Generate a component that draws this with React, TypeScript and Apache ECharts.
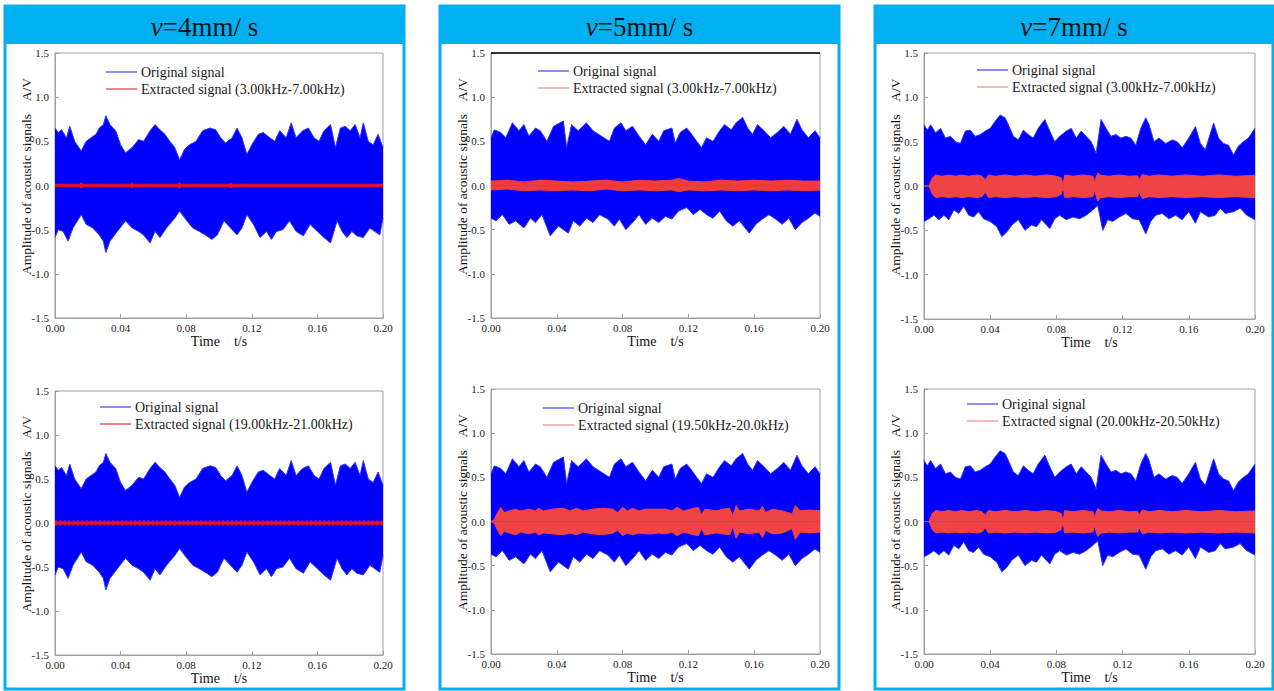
import React, { useEffect, useRef } from "react";
import * as echarts from "echarts";

// ---------- DATA (time s, amplitude V) ----------
const xTicks = [0, 0.04, 0.08, 0.12, 0.16, 0.2];
const yTicks = [-1.5, -1.0, -0.5, 0.0, 0.5, 1.0, 1.5];
const speeds = ["4", "5", "7"];
const extractedLabels = [
  "Extracted signal (3.00kHz-7.00kHz)",
  "Extracted signal (19.00kHz-21.00kHz)",
  "Extracted signal (3.00kHz-7.00kHz)",
  "Extracted signal (19.50kHz-20.0kHz)",
  "Extracted signal (3.00kHz-7.00kHz)",
  "Extracted signal (20.00kHz-20.50kHz)",
];

// v = 4 mm/s original signal envelope
const orig4Upper = [
  [0, 0.65], [0.002, 0.6], [0.004, 0.63], [0.007, 0.54], [0.009, 0.67], [0.012, 0.5], [0.016, 0.39], [0.019, 0.5],
  [0.022, 0.54], [0.025, 0.58], [0.027, 0.65], [0.0295, 0.69], [0.031, 0.79], [0.0335, 0.69], [0.037, 0.62], [0.04, 0.46],
  [0.043, 0.37], [0.047, 0.43], [0.051, 0.52], [0.054, 0.5], [0.058, 0.62], [0.061, 0.69], [0.064, 0.63], [0.067, 0.58],
  [0.07, 0.5], [0.073, 0.43], [0.076, 0.29], [0.079, 0.41], [0.082, 0.46], [0.086, 0.5], [0.09, 0.62], [0.0945, 0.65],
  [0.098, 0.63], [0.101, 0.54], [0.104, 0.48], [0.108, 0.54], [0.111, 0.65], [0.114, 0.54], [0.117, 0.35], [0.12, 0.46],
  [0.124, 0.58], [0.127, 0.6], [0.131, 0.54], [0.134, 0.5], [0.137, 0.62], [0.141, 0.54], [0.144, 0.71], [0.147, 0.54],
  [0.151, 0.62], [0.1545, 0.65], [0.158, 0.54], [0.161, 0.5], [0.164, 0.62], [0.168, 0.69], [0.171, 0.43], [0.174, 0.65],
  [0.177, 0.67], [0.18, 0.62], [0.183, 0.69], [0.186, 0.54], [0.188, 0.71], [0.191, 0.5], [0.194, 0.46], [0.197, 0.58],
  [0.2, 0.43],
];
const orig4Lower = [
  [0, -0.59], [0.002, -0.5], [0.005, -0.52], [0.008, -0.63], [0.011, -0.48], [0.016, -0.33], [0.019, -0.44], [0.023, -0.48],
  [0.027, -0.56], [0.0295, -0.63], [0.031, -0.76], [0.0335, -0.63], [0.038, -0.52], [0.043, -0.4], [0.047, -0.48], [0.051, -0.52],
  [0.054, -0.56], [0.058, -0.65], [0.061, -0.52], [0.064, -0.59], [0.068, -0.48], [0.073, -0.37], [0.076, -0.29], [0.08, -0.39],
  [0.084, -0.48], [0.088, -0.52], [0.0925, -0.57], [0.0956, -0.61], [0.099, -0.56], [0.103, -0.4], [0.107, -0.48], [0.111, -0.56],
  [0.114, -0.48], [0.117, -0.33], [0.121, -0.44], [0.125, -0.59], [0.129, -0.52], [0.132, -0.61], [0.135, -0.52], [0.139, -0.5],
  [0.143, -0.4], [0.147, -0.52], [0.1515, -0.57], [0.1555, -0.44], [0.16, -0.52], [0.164, -0.59], [0.168, -0.65], [0.172, -0.4],
  [0.175, -0.52], [0.178, -0.59], [0.181, -0.52], [0.184, -0.57], [0.188, -0.59], [0.192, -0.48], [0.195, -0.52], [0.198, -0.56],
  [0.2, -0.37],
];

// v = 5 mm/s original signal envelope
const orig5Upper = [
  [0, 0.54], [0.002, 0.63], [0.006, 0.6], [0.009, 0.54], [0.013, 0.71], [0.017, 0.62], [0.02, 0.69], [0.023, 0.56],
  [0.027, 0.65], [0.03, 0.62], [0.034, 0.5], [0.038, 0.67], [0.044, 0.73], [0.046, 0.43], [0.049, 0.69], [0.053, 0.62],
  [0.058, 0.71], [0.062, 0.62], [0.067, 0.56], [0.072, 0.5], [0.075, 0.65], [0.079, 0.71], [0.082, 0.62], [0.086, 0.67],
  [0.09, 0.56], [0.094, 0.46], [0.098, 0.58], [0.102, 0.5], [0.105, 0.62], [0.11, 0.65], [0.112, 0.48], [0.115, 0.6],
  [0.119, 0.65], [0.122, 0.58], [0.125, 0.5], [0.128, 0.43], [0.131, 0.54], [0.135, 0.5], [0.139, 0.62], [0.142, 0.69],
  [0.146, 0.63], [0.149, 0.71], [0.153, 0.77], [0.156, 0.65], [0.159, 0.58], [0.162, 0.69], [0.166, 0.62], [0.17, 0.54],
  [0.174, 0.6], [0.178, 0.67], [0.182, 0.58], [0.186, 0.75], [0.189, 0.63], [0.193, 0.54], [0.197, 0.62], [0.2, 0.54],
];
const orig5Lower = [
  [0, -0.37], [0.003, -0.4], [0.007, -0.33], [0.011, -0.44], [0.015, -0.4], [0.02, -0.48], [0.024, -0.37], [0.027, -0.42],
  [0.031, -0.33], [0.036, -0.57], [0.041, -0.46], [0.047, -0.54], [0.05, -0.4], [0.054, -0.46], [0.058, -0.37], [0.062, -0.42],
  [0.066, -0.33], [0.071, -0.38], [0.075, -0.46], [0.078, -0.38], [0.082, -0.5], [0.087, -0.4], [0.09, -0.33], [0.094, -0.44],
  [0.098, -0.37], [0.102, -0.42], [0.106, -0.35], [0.11, -0.38], [0.114, -0.29], [0.119, -0.25], [0.123, -0.33], [0.127, -0.27],
  [0.131, -0.33], [0.135, -0.37], [0.139, -0.29], [0.143, -0.4], [0.147, -0.46], [0.151, -0.4], [0.157, -0.54], [0.161, -0.44],
  [0.165, -0.38], [0.169, -0.33], [0.173, -0.38], [0.177, -0.44], [0.181, -0.37], [0.185, -0.5], [0.189, -0.42], [0.193, -0.37],
  [0.197, -0.31], [0.2, -0.35],
];

// v = 7 mm/s original signal envelope
const orig7Upper = [
  [0, 0.69], [0.002, 0.63], [0.004, 0.69], [0.007, 0.6], [0.01, 0.65], [0.013, 0.54], [0.016, 0.56], [0.019, 0.5],
  [0.022, 0.48], [0.025, 0.62], [0.028, 0.63], [0.031, 0.56], [0.034, 0.58], [0.037, 0.62], [0.04, 0.65], [0.043, 0.73],
  [0.046, 0.8], [0.049, 0.77], [0.051, 0.69], [0.054, 0.56], [0.057, 0.52], [0.06, 0.63], [0.063, 0.58], [0.066, 0.54],
  [0.069, 0.65], [0.073, 0.75], [0.076, 0.62], [0.079, 0.5], [0.082, 0.56], [0.086, 0.62], [0.089, 0.65], [0.092, 0.54],
  [0.095, 0.62], [0.098, 0.56], [0.101, 0.5], [0.104, 0.37], [0.107, 0.75], [0.11, 0.65], [0.113, 0.56], [0.116, 0.58],
  [0.119, 0.54], [0.122, 0.56], [0.125, 0.54], [0.128, 0.46], [0.131, 0.65], [0.134, 0.77], [0.136, 0.69], [0.139, 0.5],
  [0.142, 0.54], [0.146, 0.48], [0.15, 0.52], [0.153, 0.5], [0.156, 0.43], [0.16, 0.54], [0.164, 0.67], [0.167, 0.48],
  [0.17, 0.41], [0.175, 0.71], [0.178, 0.54], [0.181, 0.48], [0.184, 0.46], [0.187, 0.35], [0.19, 0.45], [0.193, 0.5],
  [0.196, 0.54], [0.2, 0.65],
];
const orig7Lower = [
  [0, -0.4], [0.003, -0.37], [0.006, -0.33], [0.009, -0.38], [0.012, -0.33], [0.015, -0.38], [0.018, -0.27], [0.021, -0.31],
  [0.024, -0.23], [0.027, -0.33], [0.03, -0.35], [0.033, -0.29], [0.036, -0.37], [0.04, -0.4], [0.044, -0.46], [0.047, -0.57],
  [0.05, -0.52], [0.053, -0.44], [0.057, -0.38], [0.061, -0.5], [0.065, -0.44], [0.068, -0.46], [0.071, -0.38], [0.076, -0.48],
  [0.079, -0.37], [0.082, -0.33], [0.086, -0.38], [0.09, -0.35], [0.094, -0.37], [0.098, -0.33], [0.102, -0.27], [0.105, -0.22],
  [0.108, -0.5], [0.111, -0.38], [0.114, -0.4], [0.118, -0.35], [0.122, -0.31], [0.126, -0.37], [0.13, -0.38], [0.134, -0.54],
  [0.137, -0.4], [0.14, -0.33], [0.144, -0.31], [0.148, -0.37], [0.152, -0.33], [0.156, -0.38], [0.16, -0.29], [0.164, -0.42],
  [0.167, -0.29], [0.172, -0.35], [0.176, -0.33], [0.179, -0.25], [0.182, -0.31], [0.187, -0.29], [0.191, -0.25], [0.195, -0.33],
  [0.2, -0.38],
];

// extracted signals
const ext4aUpper = [
  [0, 0.014], [0.015, 0.014], [0.016, 0.03], [0.017, 0.014], [0.046, 0.014], [0.047, 0.028], [0.048, 0.014], [0.075, 0.014],
  [0.076, 0.03], [0.077, 0.014], [0.106, 0.014], [0.107, 0.025], [0.108, 0.014], [0.2, 0.014],
];
const ext4aLower = [
  [0, -0.014], [0.015, -0.014], [0.016, -0.03], [0.017, -0.014], [0.046, -0.014], [0.047, -0.028], [0.048, -0.014], [0.075, -0.014],
  [0.076, -0.03], [0.077, -0.014], [0.106, -0.014], [0.107, -0.025], [0.108, -0.014], [0.2, -0.014],
];
const ext4bUpper = [[0, 0.012], [0.2, 0.012]];
const ext4bLower = [[0, -0.012], [0.2, -0.012]];

const ext5aUpper = [
  [0, 0.05], [0.01, 0.06], [0.02, 0.04], [0.03, 0.06], [0.04, 0.05], [0.05, 0.04], [0.06, 0.05], [0.07, 0.06],
  [0.08, 0.04], [0.09, 0.06], [0.1, 0.05], [0.11, 0.06], [0.114, 0.08], [0.12, 0.05], [0.13, 0.04], [0.14, 0.06],
  [0.15, 0.05], [0.16, 0.06], [0.17, 0.05], [0.18, 0.06], [0.19, 0.05], [0.2, 0.05],
];
const ext5aLower = [
  [0, -0.05], [0.01, -0.04], [0.02, -0.06], [0.03, -0.05], [0.04, -0.06], [0.05, -0.05], [0.06, -0.06], [0.07, -0.04],
  [0.08, -0.06], [0.09, -0.05], [0.1, -0.06], [0.11, -0.05], [0.114, -0.07], [0.12, -0.05], [0.13, -0.06], [0.14, -0.05],
  [0.15, -0.06], [0.16, -0.05], [0.17, -0.06], [0.18, -0.05], [0.19, -0.06], [0.2, -0.05],
];
const ext5bUpper = [
  [0, 0], [0.002, 0.02], [0.004, 0.1], [0.006, 0.16], [0.008, 0.1], [0.011, 0.12], [0.015, 0.14], [0.018, 0.12],
  [0.023, 0.14], [0.027, 0.12], [0.029, 0.15], [0.032, 0.12], [0.037, 0.14], [0.044, 0.15], [0.048, 0.12], [0.052, 0.15],
  [0.056, 0.12], [0.062, 0.14], [0.068, 0.15], [0.074, 0.14], [0.077, 0.1], [0.08, 0.16], [0.083, 0.12], [0.086, 0.15],
  [0.09, 0.12], [0.094, 0.14], [0.098, 0.14], [0.102, 0.14], [0.106, 0.14], [0.11, 0.12], [0.113, 0.16], [0.117, 0.12],
  [0.121, 0.14], [0.126, 0.16], [0.128, 0.08], [0.13, 0.14], [0.137, 0.12], [0.141, 0.14], [0.145, 0.15], [0.147, 0.06],
  [0.149, 0.18], [0.151, 0.12], [0.157, 0.14], [0.163, 0.12], [0.165, 0.17], [0.167, 0.1], [0.171, 0.14], [0.177, 0.12],
  [0.181, 0.1], [0.183, 0.08], [0.185, 0.18], [0.188, 0.12], [0.194, 0.13], [0.2, 0.12],
];
const ext5bLower = [
  [0, 0], [0.002, -0.02], [0.004, -0.1], [0.006, -0.16], [0.008, -0.11], [0.011, -0.13], [0.015, -0.15], [0.018, -0.12],
  [0.023, -0.14], [0.027, -0.12], [0.029, -0.15], [0.032, -0.13], [0.037, -0.14], [0.044, -0.15], [0.048, -0.13], [0.052, -0.15],
  [0.056, -0.12], [0.062, -0.14], [0.068, -0.15], [0.074, -0.13], [0.077, -0.1], [0.08, -0.16], [0.083, -0.13], [0.086, -0.15],
  [0.09, -0.13], [0.094, -0.14], [0.098, -0.14], [0.102, -0.13], [0.106, -0.14], [0.11, -0.12], [0.113, -0.16], [0.117, -0.12],
  [0.121, -0.14], [0.126, -0.16], [0.128, -0.08], [0.13, -0.15], [0.137, -0.13], [0.141, -0.14], [0.145, -0.15], [0.147, -0.06],
  [0.149, -0.19], [0.151, -0.12], [0.157, -0.14], [0.163, -0.12], [0.165, -0.18], [0.167, -0.1], [0.171, -0.14], [0.177, -0.13],
  [0.181, -0.1], [0.183, -0.08], [0.185, -0.2], [0.188, -0.12], [0.194, -0.13], [0.2, -0.12],
];

const ext7Upper = [
  [0, 0], [0.003, 0], [0.005, 0.09], [0.007, 0.125], [0.011, 0.11], [0.015, 0.125], [0.019, 0.11], [0.023, 0.125],
  [0.027, 0.11], [0.032, 0.125], [0.035, 0.11], [0.037, 0.07], [0.039, 0.125], [0.043, 0.11], [0.049, 0.125], [0.055, 0.11],
  [0.061, 0.125], [0.067, 0.11], [0.074, 0.125], [0.08, 0.11], [0.083, 0.09], [0.084, 0.01], [0.085, 0.125], [0.09, 0.11],
  [0.096, 0.125], [0.102, 0.11], [0.103, 0.05], [0.105, 0.145], [0.107, 0.12], [0.112, 0.11], [0.118, 0.125], [0.124, 0.11],
  [0.129, 0.115], [0.13, 0.07], [0.132, 0.13], [0.136, 0.11], [0.142, 0.125], [0.15, 0.11], [0.158, 0.125], [0.168, 0.11],
  [0.178, 0.125], [0.188, 0.11], [0.2, 0.12],
];
const ext7Lower = [
  [0, 0], [0.003, 0], [0.005, -0.09], [0.007, -0.13], [0.011, -0.12], [0.015, -0.13], [0.019, -0.12], [0.023, -0.13],
  [0.027, -0.12], [0.032, -0.13], [0.035, -0.12], [0.037, -0.07], [0.039, -0.13], [0.043, -0.12], [0.049, -0.13], [0.055, -0.12],
  [0.061, -0.13], [0.067, -0.12], [0.074, -0.13], [0.08, -0.12], [0.083, -0.09], [0.084, -0.01], [0.085, -0.13], [0.09, -0.12],
  [0.096, -0.13], [0.102, -0.12], [0.103, -0.05], [0.105, -0.17], [0.107, -0.13], [0.112, -0.12], [0.118, -0.13], [0.124, -0.12],
  [0.129, -0.12], [0.13, -0.07], [0.132, -0.14], [0.136, -0.12], [0.142, -0.13], [0.15, -0.12], [0.158, -0.13], [0.168, -0.12],
  [0.178, -0.13], [0.188, -0.12], [0.2, -0.13],
];

// ---------- LAYOUT / STYLE ----------
const SERIF = "Liberation Serif";
const BLUE = "#0000ff";
const FRAME = "#00b0f0";

const frames = [
  { x: 5, w: 399 },
  { x: 440, w: 399 },
  { x: 875, w: 398 },
];
const grids = [
  { left: 55, top: 53, width: 328, height: 265, legX: 51, legY: 19 },
  { left: 55, top: 391, width: 328, height: 264, legX: 45, legY: 16 },
  { left: 491, top: 53, width: 329, height: 265, legX: 47, legY: 18 },
  { left: 491, top: 389, width: 329, height: 265, legX: 52, legY: 19 },
  { left: 924, top: 53, width: 331, height: 266, legX: 53, legY: 17 },
  { left: 924, top: 389, width: 331, height: 265, legX: 43, legY: 15 },
];
const panelData = [
  { ou: orig4Upper, ol: orig4Lower, eu: ext4aUpper, el: ext4aLower, red: "#e8141c" },
  { ou: orig4Upper, ol: orig4Lower, eu: ext4bUpper, el: ext4bLower, red: "#e8141c", beads: true },
  { ou: orig5Upper, ol: orig5Lower, eu: ext5aUpper, el: ext5aLower, red: "#f03c3c" },
  { ou: orig5Upper, ol: orig5Lower, eu: ext5bUpper, el: ext5bLower, red: "#f04444" },
  { ou: orig7Upper, ol: orig7Lower, eu: ext7Upper, el: ext7Lower, red: "#f04444" },
  { ou: orig7Upper, ol: orig7Lower, eu: ext7Upper, el: ext7Lower, red: "#f04444" },
];

function buildOption() {
  const grid: any[] = [];
  const xAxis: any[] = [];
  const yAxis: any[] = [];
  const series: any[] = [];
  const graphic: any[] = [];

  frames.forEach((f, i) => {
    graphic.push({
      type: "rect",
      shape: { x: f.x, y: 6, width: f.w, height: 38 },
      style: { fill: FRAME },
      z: 1,
    });
    graphic.push({
      type: "rect",
      shape: { x: f.x, y: 6, width: f.w, height: 683 },
      style: { fill: "none", stroke: FRAME, lineWidth: 3 },
      z: 1,
    });
    graphic.push({
      type: "text",
      x: f.x + f.w / 2,
      y: 27,
      z: 2,
      style: {
        text: "{i|v}{n|=" + speeds[i] + "mm/ s}",
        align: "center",
        verticalAlign: "middle",
        rich: {
          i: { fontFamily: SERIF, fontSize: 27, fontStyle: "italic", fill: "#111" },
          n: { fontFamily: SERIF, fontSize: 27, fill: "#111" },
        },
      },
    });
  });

  grids.forEach((g, i) => {
    grid.push({
      left: g.left,
      top: g.top,
      width: g.width,
      height: g.height,
      show: true,
      borderColor: "#a0a0a0",
      borderWidth: 1,
      backgroundColor: "transparent",
    });
    xAxis.push({
      type: "value",
      gridIndex: i,
      min: xTicks[0],
      max: xTicks[xTicks.length - 1],
      interval: xTicks[1] - xTicks[0],
      name: "Time    t/s",
      nameLocation: "middle",
      nameGap: 16,
      nameMoveOverlap: false,
      nameTextStyle: { fontFamily: SERIF, fontSize: 14, color: "#111" },
      axisLine: { show: true, onZero: false, lineStyle: { color: "#a0a0a0", width: 1 } },
      axisTick: { show: true, inside: true, length: 4, lineStyle: { color: "#a0a0a0" } },
      axisLabel: {
        fontFamily: SERIF,
        fontSize: 11,
        color: "#222",
        margin: 4,
        formatter: (v: number) => v.toFixed(2),
      },
      splitLine: { show: false },
    });
    yAxis.push({
      type: "value",
      gridIndex: i,
      min: yTicks[0],
      max: yTicks[yTicks.length - 1],
      interval: 0.5,
      name: "Amplitude of acoustic signals    A/V",
      nameLocation: "middle",
      nameGap: 22,
      nameMoveOverlap: false,
      nameTextStyle: { fontFamily: SERIF, fontSize: 13.5, color: "#111", padding: [0, 0, 0, 18] },
      axisLine: { show: true, onZero: false, lineStyle: { color: "#a0a0a0", width: 1 } },
      axisTick: { show: true, inside: true, length: 4, lineStyle: { color: "#a0a0a0" } },
      axisLabel: {
        fontFamily: SERIF,
        fontSize: 11,
        color: "#222",
        margin: 6,
        formatter: (v: number) => v.toFixed(1),
      },
      splitLine: { show: false },
    });

    const p = panelData[i];
    const area = (name: string, data: number[][], color: string, edge: string, lw: number, z: number) => ({
      type: "line",
      name,
      xAxisIndex: i,
      yAxisIndex: i,
      data,
      showSymbol: false,
      symbol: "none",
      silent: true,
      z,
      lineStyle: { color: edge, width: lw },
      areaStyle: { color, opacity: 1, origin: 0 },
    });
    series.push(area("Original signal", p.ou, BLUE, "#3434f2", 1, 2));
    series.push(area("Original signal", p.ol, BLUE, "#3434f2", 1, 2));
    series.push(area(extractedLabels[i], p.eu, p.red, p.red, 1, 3));
    series.push(area(extractedLabels[i], p.el, p.red, p.red, 1, 3));
    if (p.beads) {
      series.push({
        type: "line",
        name: extractedLabels[i],
        xAxisIndex: i,
        yAxisIndex: i,
        data: p.eu.map((d) => [d[0], 0]),
        showSymbol: false,
        symbol: "none",
        silent: true,
        z: 4,
        lineStyle: { color: p.red, width: 5, type: [2, 2.4] },
      });
    }

    // legend drawn as graphics
    const lx = g.left + g.legX;
    const ly = g.top + g.legY;
    graphic.push({
      type: "line",
      shape: { x1: lx, y1: ly, x2: lx + 31, y2: ly },
      style: { stroke: "#4040e8", lineWidth: 1.2 },
      z: 5,
    });
    graphic.push({
      type: "text",
      x: lx + 35,
      y: ly,
      z: 5,
      style: { text: "Original signal", fontFamily: SERIF, fontSize: 14, fill: "#1a1a1a", verticalAlign: "middle" },
    });
    graphic.push({
      type: "line",
      shape: { x1: lx, y1: ly + 17, x2: lx + 31, y2: ly + 17 },
      style: { stroke: i < 2 ? "#e8303a" : "#f08a8a", lineWidth: 1.2 },
      z: 5,
    });
    graphic.push({
      type: "text",
      x: lx + 35,
      y: ly + 17,
      z: 5,
      style: { text: extractedLabels[i], fontFamily: SERIF, fontSize: 14, fill: "#1a1a1a", verticalAlign: "middle" },
    });
  });

  // darker top edge on the middle-top panel
  graphic.push({
    type: "line",
    shape: { x1: grids[2].left, y1: grids[2].top, x2: grids[2].left + grids[2].width, y2: grids[2].top },
    style: { stroke: "#000", lineWidth: 1.3 },
    z: 6,
  });

  return {
    animation: false,
    backgroundColor: "#ffffff",
    textStyle: { fontFamily: SERIF },
    grid,
    xAxis,
    yAxis,
    series,
    graphic,
  };
}

export default function App() {
  const ref = useRef<HTMLDivElement>(null);
  useEffect(() => {
    if (!ref.current) return;
    const chart = echarts.init(ref.current, null, { renderer: "svg" });
    chart.setOption(buildOption() as any);
    return () => chart.dispose();
  }, []);
  return (
    <div
      ref={ref}
      style={{ position: "absolute", left: 0, top: 0, width: 1274, height: 691, background: "#fff" }}
    />
  );
}
